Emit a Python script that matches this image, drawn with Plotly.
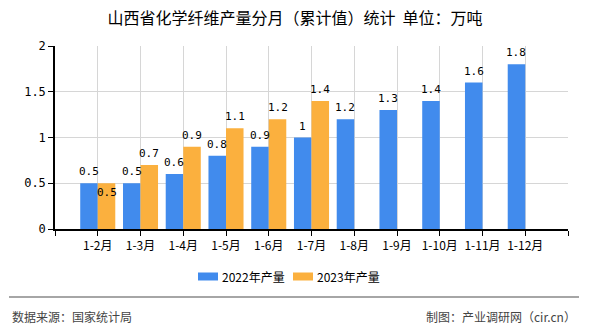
import plotly.graph_objects as go

# Monthly cumulative output of chemical fibres (10k tonnes)
categories = ["1-2月", "1-3月", "1-4月", "1-5月", "1-6月", "1-7月",
              "1-8月", "1-9月", "1-10月", "1-11月", "1-12月"]
values_2022 = [0.5, 0.5, 0.6, 0.8, 0.9, 1, 1.2, 1.3, 1.4, 1.6, 1.8]
values_2023 = [0.5, 0.7, 0.9, 1.1, 1.2, 1.4]
series_names = ["2022年产量", "2023年产量"]
y_ticks = [0, 0.5, 1, 1.5, 2]

BLUE = "#418bed"
ORANGE = "#fbb03e"
LABEL_FONT = dict(family="DejaVu Sans Mono", size=11, color="#000")
CJK = "Noto Sans CJK SC"

# plot area geometry in pixels
L, R, T, B = 55, 568, 46, 229
W, H = R - L, B - T


def px(x):
    return (x - L) / W


def py(y):
    return (B - y) / H


xpos = list(range(1, len(categories) + 1))

fig = go.Figure()
fig.add_bar(x=xpos, y=values_2022, name=series_names[0], marker_color=BLUE,
            marker_line_width=0)
fig.add_bar(x=xpos[:len(values_2023)], y=values_2023, name=series_names[1],
            marker_color=ORANGE, marker_line_width=0)

# value labels above each bar
half = 0.41 / 2
annotations = []
for i, v in enumerate(values_2022):
    annotations.append(dict(x=xpos[i] - half, y=v, text=f"{v:g}", showarrow=False,
                            xref="x", yref="y", yanchor="bottom", yshift=3,
                            font=LABEL_FONT))
for i, v in enumerate(values_2023):
    clash = values_2022[i] == v
    annotations.append(dict(x=xpos[i] + half, y=v, text=f"{v:g}", showarrow=False,
                            xref="x", yref="y",
                            yanchor="top" if clash else "bottom",
                            yshift=-1 if clash else 3,
                            font=LABEL_FONT))

# legend: coloured strips with names
shapes = []
legend_items = [(series_names[0], BLUE, 198), (series_names[1], ORANGE, 293)]
for name, color, x0 in legend_items:
    shapes.append(dict(type="rect", xref="paper", yref="paper",
                       x0=px(x0), x1=px(x0 + 20), y0=py(280.5), y1=py(272.5),
                       fillcolor=color, line_width=0))
    annotations.append(dict(x=px(x0 + 22), y=py(276.5), xref="paper", yref="paper",
                            text=name, showarrow=False, xanchor="left",
                            yanchor="middle",
                            font=dict(family=CJK, size=12, color="#000")))

# footer
annotations.append(dict(x=px(10), y=py(316), xref="paper", yref="paper",
                        text="数据来源：国家统计局", showarrow=False, xanchor="left",
                        yanchor="middle",
                        font=dict(family=CJK, size=12, color="#444")))
annotations.append(dict(x=px(578), y=py(316), xref="paper", yref="paper",
                        text="制图：产业调研网（cir.cn）", showarrow=False, xanchor="right",
                        yanchor="middle",
                        font=dict(family=CJK, size=12, color="#444")))
shapes.append(dict(type="line", xref="paper", yref="paper",
                   x0=px(9), x1=px(579), y0=py(297), y1=py(297),
                   line=dict(color="#888", width=1.5)))

fig.update_layout(
    width=590, height=330,
    margin=dict(l=L, r=590 - R, t=T, b=330 - B),
    paper_bgcolor="white", plot_bgcolor="white",
    barmode="group", bargap=0.18, bargroupgap=0,
    title=dict(text="山西省化学纤维产量分月（累计值）统计  单位：万吨",
               x=0.5, xref="container", xanchor="center",
               y=1 - 18 / 330, yref="container", yanchor="middle",
               font=dict(family=CJK, size=16, color="#000")),
    font=dict(family=CJK, size=12, color="#000"),
    showlegend=False,
    annotations=annotations,
    shapes=shapes,
)

fig.update_xaxes(
    range=[0, len(categories) + 1],
    tickvals=list(range(0, len(categories) + 2)),
    ticktext=[""] + categories + [""],
    showgrid=True, gridcolor="#d6d6d6", gridwidth=1,
    showline=True, linecolor="#000", linewidth=1.5,
    ticks="outside", ticklen=5, tickcolor="#000",
    tickfont=dict(family=CJK, size=12, color="#000"),
    zeroline=False, fixedrange=True,
)
fig.update_yaxes(
    range=[0, 2],
    tickvals=y_ticks,
    ticktext=[f"{t:g}" for t in y_ticks],
    showgrid=True, gridcolor="#d6d6d6", gridwidth=1,
    showline=True, linecolor="#000", linewidth=1.5,
    ticks="outside", ticklen=5, tickcolor="#000",
    tickfont=dict(family="DejaVu Sans Mono", size=12, color="#000"),
    zeroline=False, fixedrange=True,
)

fig.write_html("out.html")
